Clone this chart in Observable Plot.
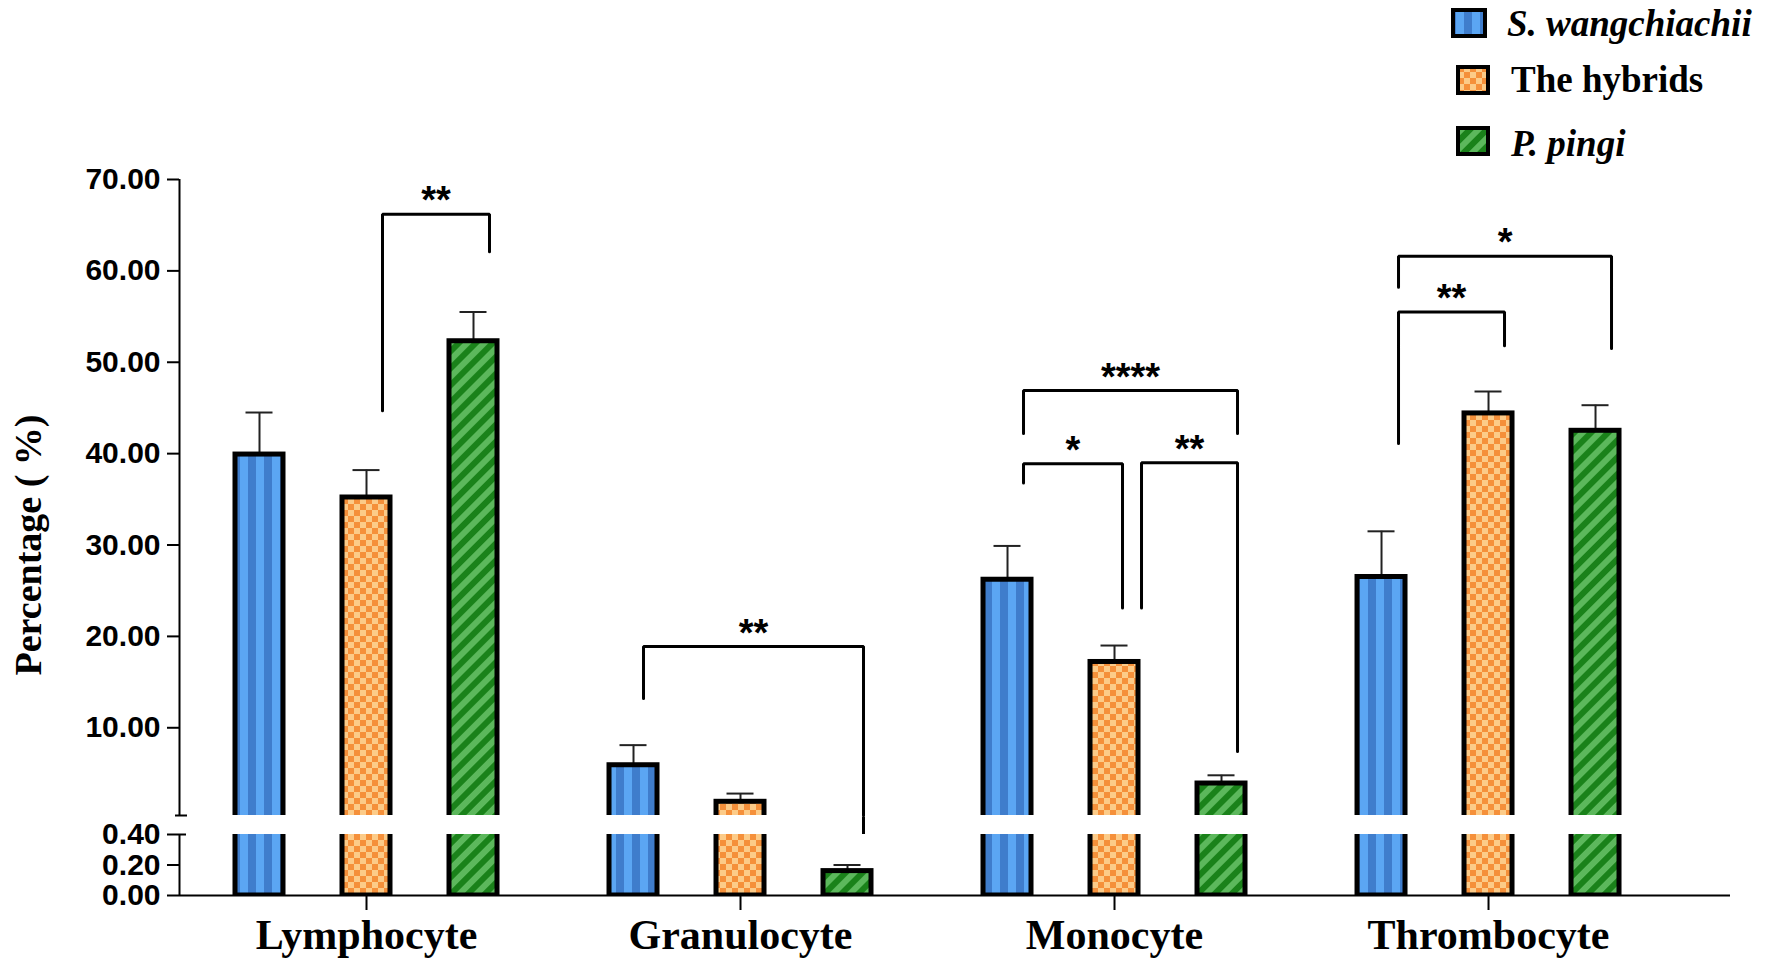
<!DOCTYPE html>
<html>
<head>
<meta charset="utf-8">
<script src="https://cdn.jsdelivr.net/npm/d3@7"></script>
<script src="https://cdn.jsdelivr.net/npm/@observablehq/plot@0.6"></script>
<style>
html, body { margin: 0; padding: 0; background: #fff; overflow: hidden; }
#wrap { position: relative; width: 1772px; height: 969px; }
#wrap > svg { position: absolute; left: 0; top: 0; }
</style>
</head>
<body>
<div id="wrap"></div>
<script>
// ---------------- data ----------------
const categories = ["Lymphocyte", "Granulocyte", "Monocyte", "Thrombocyte"];
const seriesNames = ["S. wangchiachii", "The hybrids", "P. pingi"];
const swMean = [39.9, 5.9, 26.2, 26.5];
const swErr  = [4.6, 2.2, 3.7, 5.0];
const hyMean = [35.2, 1.9, 17.2, 44.4];
const hyErr  = [3.0, 0.9, 1.8, 2.4];
const ppMean = [52.3, 0.16, 3.9, 42.5];
const ppErr  = [3.2, 0.04, 0.9, 2.8];
const topTicks = [10, 20, 30, 40, 50, 60, 70];
const bottomTicks = [0, 0.2, 0.4];
// significance brackets: group, from series, to series, bar height, leg ends, label
const brGroup    = [0, 1, 2, 2, 2, 3, 3];
const brFrom     = [1, 0, 0, 0, 1, 0, 0];
const brTo       = [2, 2, 2, 1, 2, 1, 2];
const brTop      = [66.2, 18.9, 46.9, 38.9, 39.0, 55.5, 61.6];
const brLeftEnd  = [44.7, 13.2, 42.2, 36.8, 23.1, 41.1, 58.2];
const brRightEnd = [62.1, 0.39, 42.2, 23.1, 7.4, 51.8, 51.5];
const brLabel    = ["**", "**", "****", "*", "**", "**", "*"];

// ---------------- layout ----------------
const W = 1772, H = 969;
const mL = 179, mR = 42;
const xDomain = [-0.5, 3.647];
const topFrame = [179, 815];
const botFrame = [834, 895];
const breakVal = 0.4;
const pxU = (W - mL - mR) / (xDomain[1] - xDomain[0]);
const off = 107 / pxU, hw = 24 / pxU, capHw = 13.5 / pxU;
const nudgeL = [16, 10, 16, 16, 27, 17, 17];
const nudgeR = [16, 16, 16, 8, 16, 16, 16];

const means = [swMean, hyMean, ppMean];
const errs = [swErr, hyErr, ppErr];
const rows = [];
categories.forEach((c, g) => seriesNames.forEach((s, i) => {
  rows.push({g, s: i, x: g + (i - 1) * off, v: means[i][g], e: errs[i][g]});
}));

const brPts = [], brLabels = [], brExt = [];
brGroup.forEach((g, b) => {
  const xl = g + (brFrom[b] - 1) * off + nudgeL[b] / pxU;
  const xr = g + (brTo[b] - 1) * off + nudgeR[b] / pxU;
  brPts.push({b, x: xl, y: brLeftEnd[b]}, {b, x: xl, y: brTop[b]},
             {b, x: xr, y: brTop[b]}, {b, x: xr, y: Math.max(brRightEnd[b], breakVal)});
  brLabels.push({x: (xl + xr) / 2, y: brTop[b], t: brLabel[b]});
  if (brRightEnd[b] < breakVal) brExt.push({x: xr, y1: brRightEnd[b], y2: breakVal});
});

const fmt = d3.format(".2f");
const sans = "Liberation Sans, Arial, sans-serif";
const serif = "Liberation Serif, Times New Roman, serif";

function barMarks(data) {
  const m = [];
  m.push(Plot.ruleX(data, {x: "x", y1: "v", y2: d => d.v + d.e, stroke: "#222", strokeWidth: 2, clip: true}));
  m.push(Plot.ruleY(data, {y: d => d.v + d.e, x1: d => d.x - capHw, x2: d => d.x + capHw, stroke: "#222", strokeWidth: 2, clip: true}));
  [0, 1, 2].forEach(i => {
    m.push(Plot.rect(data.filter(d => d.s === i), {
      x1: d => d.x - hw, x2: d => d.x + hw, y1: () => 0, y2: "v",
      fill: `url(#pat${i})`, stroke: "black", strokeWidth: 5, clip: true
    }));
  });
  return m;
}

const topPlot = Plot.plot({
  width: W, height: H,
  marginLeft: mL, marginRight: mR, marginTop: topFrame[0], marginBottom: H - topFrame[1],
  x: {domain: xDomain, axis: null},
  y: {domain: [breakVal, 70], axis: null},
  style: {background: "transparent", color: "black", overflow: "visible"},
  marks: [
    ...barMarks(rows.filter(d => d.v > breakVal)),
    Plot.ruleX([xDomain[0]], {y1: () => breakVal, y2: () => 70, stroke: "black", strokeWidth: 2}),
    Plot.ruleY([breakVal], {x1: () => xDomain[0] - 4 / pxU, x2: () => xDomain[0] + 8 / pxU, stroke: "black", strokeWidth: 2}),
    Plot.axisY(topTicks, {anchor: "left", label: null, tickFormat: fmt, tickSize: 12, tickPadding: 7, strokeWidth: 2,
      fontSize: 30, fontWeight: "bold", fontFamily: sans}),
    Plot.line(brPts, {x: "x", y: "y", z: "b", stroke: "black", strokeWidth: 3, strokeLinejoin: "miter"}),
    Plot.text(brLabels, {x: "x", y: "y", text: "t", dy: -13, fontSize: 38, fontWeight: "bold", fontFamily: sans}),
    Plot.text(["Percentage ( %)"], {x: () => xDomain[0], y: () => 30, text: d => d, rotate: -90, dx: 28 - mL,
      fontSize: 38, fontWeight: "bold", fontFamily: serif})
  ]
});

const botPlot = Plot.plot({
  width: W, height: H,
  marginLeft: mL, marginRight: mR, marginTop: botFrame[0], marginBottom: H - botFrame[1],
  x: {domain: xDomain, axis: null},
  y: {domain: [0, breakVal], axis: null},
  style: {background: "transparent", color: "black", overflow: "visible"},
  marks: [
    ...barMarks(rows),
    Plot.ruleX(brExt, {x: "x", y1: "y1", y2: "y2", stroke: "black", strokeWidth: 3, insetTop: -(botFrame[0] - topFrame[1])}),
    Plot.ruleX([xDomain[0]], {y1: () => 0, y2: () => breakVal, stroke: "black", strokeWidth: 2}),
    Plot.ruleY([breakVal], {x1: () => xDomain[0], x2: () => xDomain[0] + 7 / pxU, stroke: "black", strokeWidth: 2}),
    Plot.ruleY([0], {x1: () => xDomain[0], x2: () => xDomain[1], stroke: "black", strokeWidth: 2}),
    Plot.axisY(bottomTicks, {anchor: "left", label: null, tickFormat: fmt, tickSize: 12, tickPadding: 7, strokeWidth: 2,
      fontSize: 30, fontWeight: "bold", fontFamily: sans}),
    Plot.axisX([0, 1, 2, 3], {anchor: "bottom", label: null, tickFormat: i => categories[i], tickSize: 15, tickPadding: 9, strokeWidth: 2,
      fontSize: 42, fontWeight: "bold", fontFamily: serif})
  ]
});

const wrap = document.getElementById("wrap");
wrap.appendChild(topPlot);
wrap.appendChild(botPlot);

// patterns + legend
const ns = "http://www.w3.org/2000/svg";
const leg = document.createElementNS(ns, "svg");
leg.setAttribute("width", W);
leg.setAttribute("height", H);
leg.style.pointerEvents = "none";
leg.innerHTML = `
<defs>
  <pattern id="pat0" patternUnits="userSpaceOnUse" width="16" height="16">
    <rect width="16" height="16" fill="#5ba6f3"/>
    <rect x="8" width="8" height="16" fill="#3f7dcc"/>
  </pattern>
  <pattern id="pat1" patternUnits="userSpaceOnUse" width="12" height="12">
    <rect width="12" height="12" fill="#fccb88"/>
    <rect width="6" height="6" fill="#f5903a"/>
    <rect x="6" y="6" width="6" height="6" fill="#f5903a"/>
  </pattern>
  <pattern id="pat2" patternUnits="userSpaceOnUse" width="12" height="12" patternTransform="rotate(45)">
    <rect width="12" height="12" fill="#5cb85c"/>
    <rect width="6" height="12" fill="#1a821a"/>
  </pattern>
</defs>`;
const legY = [10, 67, 128];
const legX = [1453, 1458, 1458];
const legTextX = [1507, 1511, 1511];
const legBase = [36, 92, 156];
seriesNames.forEach((s, i) => {
  const r = document.createElementNS(ns, "rect");
  r.setAttribute("x", legX[i]); r.setAttribute("y", legY[i]);
  r.setAttribute("width", i === 0 ? 32 : 30); r.setAttribute("height", 26);
  r.setAttribute("fill", `url(#pat${i})`); r.setAttribute("stroke", "black"); r.setAttribute("stroke-width", 4);
  leg.appendChild(r);
  const t = document.createElementNS(ns, "text");
  t.setAttribute("x", legTextX[i]); t.setAttribute("y", legBase[i]);
  t.setAttribute("font-family", serif); t.setAttribute("font-weight", "bold");
  t.setAttribute("font-size", 37);
  if (i !== 1) t.setAttribute("font-style", "italic");
  t.textContent = s;
  leg.appendChild(t);
});
wrap.insertBefore(leg, wrap.firstChild);
</script>
</body>
</html>
